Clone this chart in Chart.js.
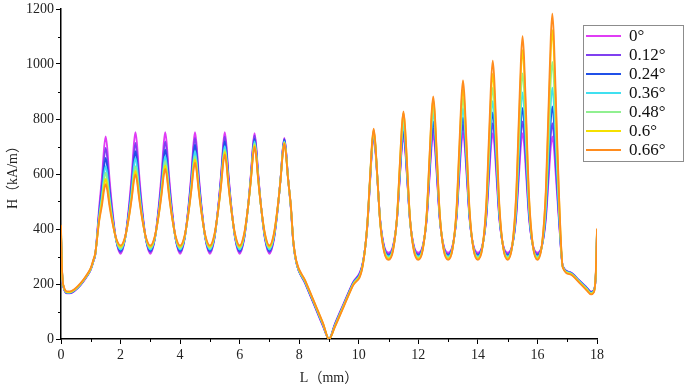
<!DOCTYPE html>
<html><head><meta charset="utf-8">
<script src="https://cdn.jsdelivr.net/npm/chart.js@4.4.1/dist/chart.umd.min.js"></script>
<style>
html,body{margin:0;padding:0;background:#fff;}
</style></head><body>
<canvas id="c" width="685" height="388"></canvas>
<script>
const labels = ['0°','0.12°','0.24°','0.36°','0.48°','0.6°','0.66°'];
const colors = ['#E03CF5','#8040F0','#2050E8','#40E0F0','#90F090','#F5E000','#FF8C1E'];
const xTicks = [0,2,4,6,8,10,12,14,16,18];
const xMinorTicks = [1,3,5,7,9,11,13,15,17];
const yTicks = [0,200,400,600,800,1000,1200];
const yMinorTicks = [100,300,500,700,900,1100];
const xTitle = 'L（mm）';
const yTitle = 'H（kA/m）';

const xs = [0,0.02,0.05,0.1,0.2,0.3,0.45,0.65,0.85,1,1.1,
1.15,1.28,1.38,1.45,1.5,1.55,1.62,1.72,1.85,2,
2.15,2.28,2.38,2.45,2.5,2.55,2.62,2.72,2.85,3,
3.15,3.28,3.38,3.45,3.5,3.55,3.62,3.72,3.85,4,
4.15,4.28,4.38,4.45,4.5,4.55,4.62,4.72,4.85,5,
5.15,5.28,5.38,5.45,5.5,5.55,5.62,5.72,5.85,6,
6.15,6.28,6.38,6.45,6.5,6.55,6.62,6.72,6.85,7,
7.15,7.28,7.38,7.45,7.5,7.55,7.62,7.72,7.8,7.9,
8.2,8.5,8.8,9,9.2,9.5,9.8,10.13,
10.28,10.38,10.45,10.5,10.55,10.62,10.72,10.85,11,
11.15,11.28,11.38,11.45,11.5,11.55,11.62,11.72,11.85,12,
12.15,12.28,12.38,12.45,12.5,12.55,12.62,12.72,12.85,13,
13.15,13.28,13.38,13.45,13.5,13.55,13.62,13.72,13.85,14,
14.15,14.28,14.38,14.45,14.5,14.55,14.62,14.72,14.85,15,
15.15,15.28,15.38,15.45,15.5,15.55,15.62,15.72,15.85,16,
16.15,16.28,16.38,16.45,16.5,16.55,16.62,16.72,16.85,
17.1,17.4,17.65,17.8,17.9,17.96,18];

const h0 = [385,290,215,182,166,166,174,195,224,252,286,
305,477,596,699,737,699,596,477,361,310,
363,482,606,712,752,712,606,482,363,310,
363,482,606,712,752,712,606,482,363,310,
363,482,606,712,752,712,606,482,363,310,
363,482,606,712,752,712,606,482,363,310,
363,481,604,710,749,710,604,481,363,310,
361,474,592,693,731,693,592,474,352,278,
201,124,46,0,56,131,205,276,
400,572,693,735,697,588,432,339,314,
339,432,589,699,737,699,589,432,339,314,
340,434,593,704,743,704,593,434,340,314,
340,436,597,711,750,711,597,436,340,314,
340,436,597,710,749,710,597,436,340,314,
340,436,597,710,749,710,597,436,340,314,
339,432,589,699,737,699,589,432,266,
243,214,188,172,180,230,380];

const h012 = [390,292,216,183,167,167,175,196,225,253,287,
306,463,570,661,695,661,570,463,361,315,
363,470,582,677,713,677,582,470,363,315,
364,473,586,683,719,683,586,473,364,315,
365,477,594,694,731,694,594,477,365,315,
366,480,598,699,737,699,598,480,366,315,
366,481,600,702,740,702,600,481,366,315,
365,477,592,692,729,692,592,477,353,279,
203,126,48,0,54,129,203,274,
402,577,700,742,703,591,430,335,309,
335,432,595,709,749,709,595,432,335,309,
337,437,607,726,767,726,607,437,337,309,
337,441,615,738,780,738,615,441,337,309,
338,442,618,742,785,742,618,442,338,309,
338,444,622,748,791,748,622,444,338,309,
338,442,618,742,785,742,618,442,265,
242,213,187,171,179,232,384];

const h024 = [395,294,217,184,168,168,176,197,226,254,288,
307,452,547,629,659,629,547,452,361,320,
364,462,563,650,683,650,563,462,364,320,
364,464,567,656,689,656,567,464,364,320,
366,471,579,672,707,672,579,471,366,320,
368,476,587,683,719,683,587,476,368,320,
369,479,593,691,728,691,593,479,369,320,
369,478,591,689,725,689,591,478,354,280,
205,128,50,0,52,127,201,272,
404,581,705,748,708,593,428,331,304,
331,432,601,720,761,720,601,432,331,304,
333,440,621,747,791,747,621,440,333,304,
334,445,630,761,806,761,630,445,334,304,
335,450,642,777,824,777,642,450,335,304,
336,454,652,792,840,792,652,454,336,304,
337,456,656,797,846,797,656,456,264,
241,212,186,170,178,234,388];

const h036 = [400,296,218,185,169,169,177,198,227,255,289,
308,444,529,602,629,602,529,444,362,325,
365,455,549,629,659,629,549,455,365,325,
366,458,553,634,665,634,553,458,366,325,
368,465,565,651,683,651,565,465,368,325,
370,472,577,667,701,667,577,472,370,325,
372,479,589,684,719,684,589,479,372,325,
372,479,589,684,719,684,589,479,355,281,
207,130,52,0,50,125,199,270,
405,583,709,752,711,594,427,327,300,
329,434,611,736,779,736,611,434,329,300,
331,446,639,775,822,775,639,446,331,300,
332,451,651,791,840,791,651,451,332,300,
334,459,668,815,866,815,668,459,334,300,
336,467,688,843,897,843,688,467,336,300,
337,472,699,859,914,859,699,472,263,
240,211,184,168,176,236,392];

const h048 = [405,298,219,186,170,170,178,199,228,256,290,
309,437,514,580,605,580,514,437,363,330,
366,447,530,602,629,602,530,447,366,330,
368,454,542,619,647,619,542,454,368,330,
370,461,555,635,665,635,555,461,370,330,
373,470,571,657,689,657,571,470,373,330,
376,479,585,677,711,677,585,479,376,330,
376,481,589,681,716,681,589,481,356,282,
209,132,54,0,48,123,197,268,
406,586,712,756,715,595,425,324,296,
326,436,622,752,797,752,622,436,326,296,
329,450,654,797,846,797,654,450,329,296,
331,458,673,824,876,824,673,458,331,296,
333,469,698,858,914,858,698,469,333,296,
336,484,732,906,966,906,732,484,336,296,
339,495,759,944,1008,944,759,495,262,
239,209,182,166,174,238,396];

const h06 = [410,300,220,187,171,171,179,200,229,257,291,
310,431,501,560,582,560,501,431,365,335,
368,443,520,586,611,586,520,443,368,335,
371,450,533,604,631,604,533,450,371,335,
373,459,548,624,653,624,548,459,373,335,
376,470,566,649,680,649,566,470,376,335,
379,479,583,672,705,672,583,479,379,335,
380,482,588,679,713,679,588,482,357,284,
211,134,56,0,46,121,195,266,
407,589,716,760,718,596,423,320,292,
324,440,637,774,822,774,637,440,324,292,
327,454,668,818,870,818,668,454,327,292,
329,465,694,854,910,854,694,465,329,292,
332,480,730,904,965,904,730,480,332,292,
337,504,785,982,1050,982,785,504,337,292,
342,525,832,1048,1123,1048,832,525,261,
237,207,180,164,172,240,399];

const h066 = [415,302,222,189,173,173,181,202,231,259,293,
312,427,489,543,563,543,489,427,367,340,
371,441,514,576,599,576,514,441,371,340,
374,449,527,594,619,594,527,449,374,340,
376,457,542,614,641,614,542,457,376,340,
380,469,562,641,671,641,562,469,380,340,
383,480,581,667,699,667,581,480,383,340,
384,484,588,677,710,677,588,484,358,286,
213,136,58,0,44,119,193,264,
409,592,720,765,722,598,422,317,288,
320,439,639,779,828,779,639,439,320,288,
324,454,674,829,882,829,674,454,324,288,
327,471,712,881,940,881,712,471,327,288,
331,491,759,947,1012,947,759,491,331,288,
337,516,817,1028,1101,1028,817,516,337,288,
342,539,870,1103,1183,1103,870,539,260,
235,205,177,162,170,242,402];

const series = [h0,h012,h024,h036,h048,h06,h066];

const FONT = "'Liberation Serif','Noto Sans CJK SC',serif";

const minorTicks = {
  id: 'minorTicks',
  afterDraw(chart) {
    const {ctx, chartArea: a, scales: {x, y}} = chart;
    ctx.save();
    ctx.strokeStyle = '#000';
    ctx.lineWidth = 1;
    ctx.beginPath();
    xMinorTicks.forEach(v => {
      const p = Math.round(x.getPixelForValue(v)) + 0.5;
      ctx.moveTo(p, a.bottom); ctx.lineTo(p, a.bottom + 3);
    });
    yMinorTicks.forEach(v => {
      const p = Math.round(y.getPixelForValue(v)) + 0.5;
      ctx.moveTo(a.left, p); ctx.lineTo(a.left - 3, p);
    });
    ctx.stroke();
    ctx.restore();
  }
};

const boxLegend = {
  id: 'boxLegend',
  afterDraw(chart) {
    const ctx = chart.ctx;
    const left = 583.5, top = 25.5, w = 100, h = 136, rowH = 19;
    ctx.save();
    ctx.fillStyle = '#fff';
    ctx.fillRect(left, top, w, h);
    ctx.strokeStyle = '#8c8c8c';
    ctx.lineWidth = 1;
    ctx.strokeRect(left, top, w, h);
    ctx.font = "17px " + FONT;
    ctx.textBaseline = 'middle';
    ctx.textAlign = 'left';
    chart.data.datasets.forEach((d, i) => {
      const cy = top + 10.5 + rowH * i;
      ctx.strokeStyle = d.borderColor;
      ctx.lineWidth = 2;
      ctx.beginPath();
      ctx.moveTo(left + 2.5, cy); ctx.lineTo(left + 37.5, cy);
      ctx.stroke();
      ctx.fillStyle = '#111';
      ctx.fillText(d.label, left + 45.5, cy + 1);
    });
    ctx.restore();
  }
};

const datasets = series.map((s, i) => ({
  label: labels[i],
  data: xs.map((x, j) => ({x: x, y: s[j]})),
  borderColor: colors[i],
  backgroundColor: colors[i],
  borderWidth: 1.8,
  pointRadius: 0,
  fill: false,
  cubicInterpolationMode: 'monotone',
  order: series.length - 1 - i
}));

const chart = new Chart(document.getElementById('c'), {
  type: 'line',
  data: { datasets },
  plugins: [minorTicks, boxLegend],
  options: {
    responsive: false,
    animation: false,
    devicePixelRatio: 1,
    layout: { padding: { left: 0, right: 88, top: 0, bottom: 0 } },
    plugins: { legend: { display: false }, tooltip: { enabled: false } },
    scales: {
      x: {
        type: 'linear', min: 0, max: 18,
        afterBuildTicks: s => { s.ticks = xTicks.map(v => ({value: v})); },
        afterFit: s => { s.height = 49; },
        grid: { display: true, drawOnChartArea: false, drawTicks: true, tickLength: 5, tickColor: '#000', tickWidth: 1 },
        border: { display: true, color: '#000', width: 1.5 },
        ticks: { font: { family: FONT, size: 14 }, color: '#222', padding: 3, maxRotation: 0, autoSkip: false, callback: v => String(v) },
        title: { display: true, text: xTitle, font: { family: FONT, size: 14 }, color: '#222', padding: { top: 0, bottom: 1 } }
      },
      y: {
        type: 'linear', min: 0, max: 1200,
        afterBuildTicks: s => { s.ticks = yTicks.map(v => ({value: v})); },
        afterFit: s => { s.width = 61; },
        grid: { display: true, drawOnChartArea: false, drawTicks: true, tickLength: 5, tickColor: '#000', tickWidth: 1 },
        border: { display: true, color: '#000', width: 1.5 },
        ticks: { font: { family: FONT, size: 14, lineHeight: 1 }, color: '#222', padding: 2, callback: v => String(v) },
        title: { display: true, text: yTitle, font: { family: FONT, size: 14 }, color: '#222', padding: { top: 5, bottom: 0 } }
      }
    }
  }
});
</script>
</body></html>
